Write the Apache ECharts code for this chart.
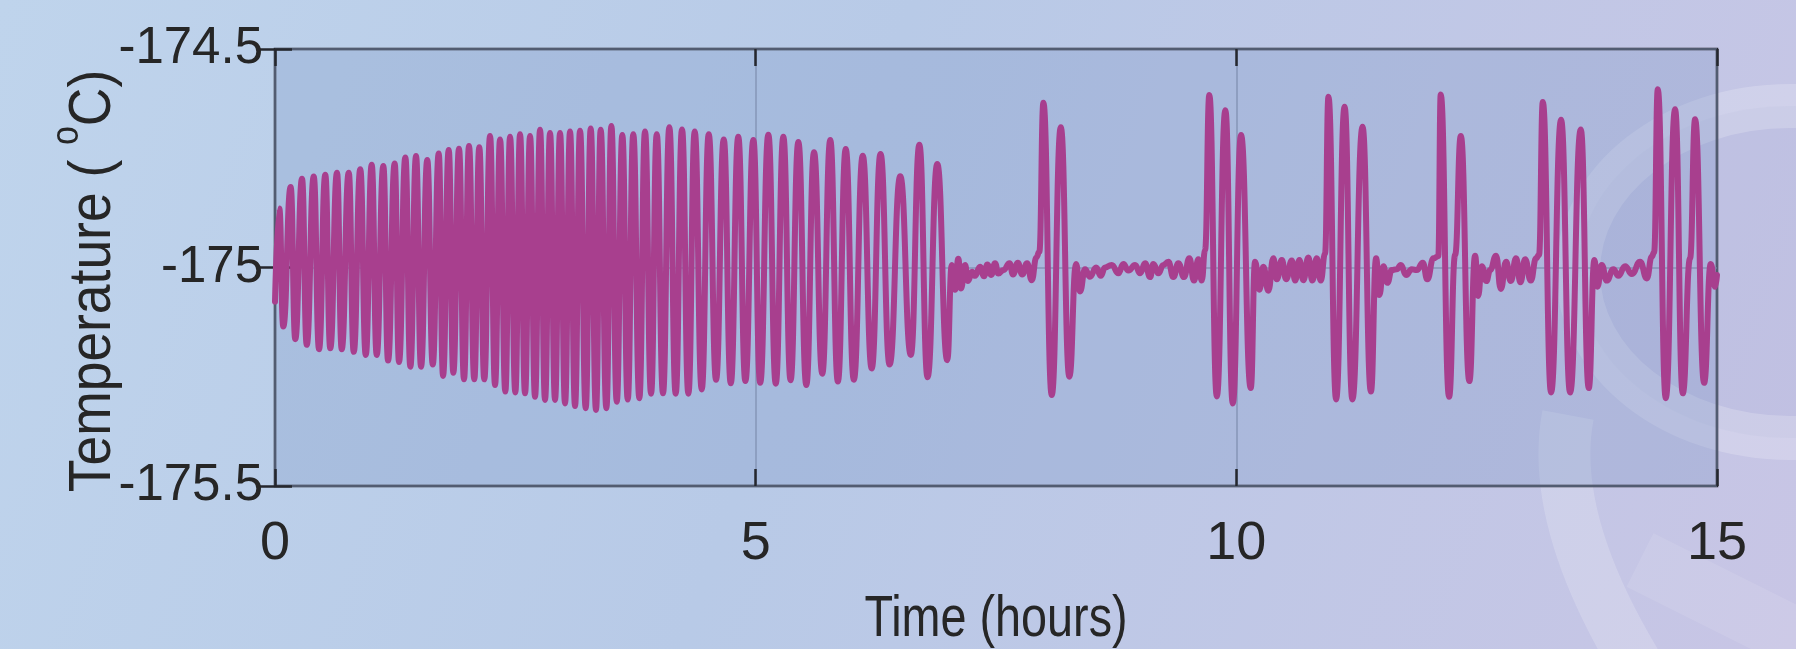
<!DOCTYPE html>
<html>
<head>
<meta charset="utf-8">
<script src="https://cdn.jsdelivr.net/npm/echarts@6/dist/echarts.min.js"></script>
<style>
html,body{margin:0;padding:0;width:1796px;height:649px;overflow:hidden;}
#chart{width:1796px;height:649px;}
</style>
</head>
<body>
<div id="chart"></div>
<script>
// ---- data: [time (hours), temperature (°C)] ----
const oscillationPhase = [
[0,-175.078],[0.045,-174.865],[0.086,-175.135],[0.163,-174.816],[0.211,-175.164],[0.281,-174.797],[0.330,-175.177],[0.403,-174.792],[0.458,-175.187],[0.523,-174.788],[0.575,-175.185],[0.645,-174.783],[0.694,-175.187],[0.767,-174.783],[0.819,-175.193],[0.887,-174.775],[0.944,-175.200],[1.006,-174.765],[1.058,-175.200],[1.127,-174.768],[1.176,-175.213],[1.245,-174.762],[1.290,-175.216],[1.356,-174.748],[1.408,-175.227],[1.467,-174.745],[1.519,-175.227],[1.584,-174.754],[1.641,-175.222],[1.703,-174.739],[1.748,-175.248],[1.807,-174.731],[1.855,-175.241],[1.914,-174.728],[1.966,-175.256],[2.018,-174.722],[2.073,-175.256],[2.125,-174.725],[2.177,-175.256],[2.237,-174.699],[2.289,-175.269],[2.341,-174.707],[2.396,-175.284],[2.445,-174.701],[2.500,-175.286],[2.549,-174.695],[2.601,-175.288],[2.653,-174.699],[2.705,-175.296],[2.757,-174.685],[2.809,-175.303],[2.861,-174.692],[2.913,-175.303],[2.965,-174.692],[3.017,-175.311],[3.069,-174.689],[3.121,-175.317],[3.173,-174.687],[3.232,-175.322],[3.284,-174.682],[3.339,-175.326],[3.388,-174.685],[3.447,-175.322],[3.499,-174.676],[3.555,-175.307],[3.613,-174.697],[3.669,-175.302],[3.727,-174.695],[3.790,-175.299],[3.849,-174.689],[3.912,-175.289],[3.971,-174.695],[4.036,-175.288],[4.102,-174.679],[4.168,-175.289],[4.234,-174.684],[4.300,-175.289],[4.366,-174.689],[4.439,-175.279],[4.512,-174.695],[4.588,-175.257],[4.668,-174.707],[4.741,-175.265],[4.819,-174.701],[4.893,-175.260],[4.976,-174.708],[5.047,-175.264],[5.132,-174.696],[5.209,-175.266],[5.288,-174.701],[5.363,-175.258],[5.444,-174.713],[5.527,-175.269],[5.607,-174.736],[5.693,-175.243],[5.776,-174.708],[5.855,-175.261],[5.937,-174.729],[6.021,-175.257],[6.114,-174.744],[6.207,-175.231],[6.299,-174.740],[6.393,-175.222],[6.504,-174.791],[6.614,-175.200],[6.703,-174.719],[6.788,-175.251],[6.889,-174.763],[6.993,-175.212]
];
const quiet1 = [
[7.040,-174.994],[7.074,-175.051],[7.108,-174.980],[7.136,-175.048],[7.178,-174.994],[7.209,-175.031],[7.251,-175.010],[7.282,-175.019],[7.334,-174.998],[7.376,-175.020],[7.410,-174.993],[7.451,-175.017],[7.490,-174.990],[7.525,-175.014],[7.577,-175.006],[7.641,-174.990],[7.677,-175.016],[7.727,-174.989],[7.773,-175.016],[7.823,-174.990],[7.872,-175.029],[7.920,-174.977],[7.951,-174.964]
];
const burst1 = [[7.993,-174.623],[8.080,-175.292],[8.174,-174.679],[8.263,-175.250]];
const quiet2 = [
[8.333,-174.992],[8.374,-175.055],[8.426,-175.004],[8.478,-175.021],[8.541,-175.000],[8.590,-175.019],[8.634,-175.000],[8.704,-174.994],[8.773,-175.013],[8.825,-174.992],[8.877,-175.007],[8.947,-174.994],[8.999,-175.013],[9.051,-174.990],[9.103,-175.022],[9.137,-174.992],[9.189,-175.013],[9.241,-174.994],[9.293,-174.987],[9.345,-175.022],[9.397,-174.990],[9.456,-175.022],[9.511,-174.979],[9.560,-175.030],[9.605,-174.981],[9.640,-175.030],[9.675,-174.960]
];
const burst2 = [[9.719,-174.605],[9.797,-175.295],[9.886,-174.640],[9.963,-175.311],[10.049,-174.697],[10.150,-175.276]];
const quiet3 = [
[10.195,-174.987],[10.240,-175.051],[10.281,-174.998],[10.333,-175.053],[10.385,-174.979],[10.421,-175.027],[10.473,-174.983],[10.518,-175.027],[10.577,-174.984],[10.611,-175.030],[10.656,-174.983],[10.697,-175.029],[10.749,-174.977],[10.791,-175.030],[10.837,-174.979],[10.878,-175.030],[10.923,-174.968]
];
const burst3 = [[10.958,-174.609],[11.038,-175.302],[11.126,-174.632],[11.207,-175.302],[11.313,-174.678],[11.400,-175.284]];
const quiet4 = [
[11.454,-174.979],[11.488,-175.063],[11.530,-174.997],[11.571,-175.035],[11.617,-175.006],[11.669,-175.004],[11.711,-174.994],[11.766,-175.017],[11.825,-175.004],[11.877,-175.006],[11.939,-174.989],[11.987,-175.027],[12.050,-174.979],[12.101,-174.974]
];
const burst4 = [[12.126,-174.604],[12.213,-175.296],[12.276,-174.971],[12.335,-174.699],[12.424,-175.260]];
const quiet5 = [
[12.484,-174.973],[12.515,-175.065],[12.553,-174.997],[12.601,-175.031],[12.640,-175.006],[12.702,-174.973],[12.751,-175.049],[12.806,-174.987],[12.855,-175.031],[12.910,-174.979],[12.955,-175.034],[13.004,-174.981],[13.063,-175.030],[13.118,-174.979],[13.149,-174.971]
];
const burst5 = [[13.188,-174.621],[13.274,-175.286],[13.378,-174.662],[13.472,-175.286],[13.583,-174.684],[13.666,-175.276]];
const quiet6 = [
[13.725,-174.983],[13.756,-175.044],[13.801,-174.994],[13.853,-175.030],[13.922,-175.004],[13.974,-175.019],[14.044,-174.997],[14.114,-175.015],[14.200,-174.987],[14.270,-175.025],[14.322,-174.975],[14.346,-174.965]
];
const burst6 = [[14.384,-174.592],[14.467,-175.299],[14.564,-174.638],[14.644,-175.288],[14.720,-174.979],[14.772,-174.661],[14.866,-175.264],[14.935,-174.992],[14.980,-175.044],[15.000,-175.017]];

const xTickValues = [0, 5, 10, 15];
const xTickLabels = ['0', '5', '10', '15'];
const yTickValues = [-175.5, -175, -174.5];
const yTickLabels = ['-175.5', '-175', '-174.5'];
const xTitle = 'Time (hours)';
const yTitle = 'Temperature ( {s|o}C)';

const seriesData = [].concat(oscillationPhase, quiet1, burst1, quiet2, burst2, quiet3, burst3, quiet4, burst4, quiet5, burst5, quiet6, burst6);

// ---- styling ----
const FONT = '"Liberation Sans", Arial, Helvetica, sans-serif';
const TEXT = '#262626';
const FRAME = '#25272e';
const FS = 51;

const chart = echarts.init(document.getElementById('chart'));
const tickStyle = { color: FRAME, width: 2.5 };
const gridLineStyle = { color: 'rgba(120,136,170,0.55)', width: 2 };

chart.setOption({
  animation: false,
  backgroundColor: {
    type: 'linear', x: 0, y: 0, x2: 1, y2: 1,
    colorStops: [
      { offset: 0, color: '#bfd4ec' },
      { offset: 0.45, color: '#b8cae7' },
      { offset: 1, color: '#c8c5e5' }
    ]
  },
  graphic: [
    { type: 'ellipse', z: -10, silent: true,
      shape: { cx: 1790, cy: 272, rx: 212, ry: 166 },
      style: { fill: 'rgba(150,158,210,0.10)', stroke: 'rgba(255,255,255,0.2)', lineWidth: 44 } },
    { type: 'bezierCurve', z: -10, silent: true,
      shape: { x1: 1568, y1: 415, cpx1: 1548, cpy1: 520, x2: 1640, y2: 670 },
      style: { fill: 'none', stroke: 'rgba(255,255,255,0.18)', lineWidth: 52 } },
    { type: 'bezierCurve', z: -10, silent: true,
      shape: { x1: 1640, y1: 560, cpx1: 1720, cpy1: 600, x2: 1800, y2: 640 },
      style: { fill: 'none', stroke: 'rgba(255,255,255,0.10)', lineWidth: 60 } },
    // axis titles (condensed like the reference's font)
    { type: 'text', z: 10, silent: true, x: 996, y: 620, scaleX: 0.82,
      style: { text: xTitle, fontSize: 57, fontFamily: FONT, fill: TEXT, align: 'center', verticalAlign: 'middle' } },
    { type: 'text', z: 10, silent: true, x: 93, y: 281, rotation: Math.PI / 2, scaleX: 0.89,
      style: { text: yTitle, fontSize: 60, fontFamily: FONT, fill: TEXT, align: 'center', verticalAlign: 'middle',
               lineHeight: 88,
               rich: { s: { fontSize: 38, fontFamily: FONT, fill: TEXT, verticalAlign: 'top', lineHeight: 40 } } } }
  ],
  grid: {
    left: 275, right: 79, top: 49, bottom: 163,
    show: true,
    backgroundColor: 'rgba(110,140,190,0.25)',
    borderColor: FRAME,
    borderWidth: 2.5
  },
  xAxis: [
    {
      type: 'value', position: 'bottom', min: 0, max: 15, interval: 5,
      axisLine: { show: false },
      axisTick: { show: true, inside: true, length: 17, lineStyle: tickStyle, customValues: xTickValues },
      axisLabel: {
        customValues: xTickValues,
        formatter: v => xTickLabels[xTickValues.indexOf(v)],
        fontSize: FS + 3, fontFamily: FONT, color: TEXT, margin: 31
      },
      splitLine: { show: true, lineStyle: gridLineStyle }
    },
    {
      type: 'value', position: 'top', min: 0, max: 15, interval: 5,
      axisLine: { show: false },
      axisTick: { show: true, inside: true, length: 17, lineStyle: tickStyle },
      axisLabel: { show: false },
      splitLine: { show: false }
    }
  ],
  yAxis: [
    {
      type: 'value', position: 'left', min: -175.5, max: -174.5, interval: 0.5,
      axisLine: { show: false },
      axisTick: { show: true, inside: true, length: 17, lineStyle: tickStyle, customValues: yTickValues },
      axisLabel: {
        customValues: yTickValues,
        formatter: v => yTickLabels[yTickValues.indexOf(v)],
        fontSize: FS, fontFamily: FONT, color: TEXT, margin: 12, padding: [6, 0, 0, 0]
      },
      splitLine: { show: true, lineStyle: gridLineStyle }
    },
    {
      type: 'value', position: 'right', min: -175.5, max: -174.5, interval: 0.5,
      axisLine: { show: false },
      axisTick: { show: true, inside: true, length: 17, lineStyle: tickStyle },
      axisLabel: { show: false },
      splitLine: { show: false }
    }
  ],
  series: [{
    type: 'line',
    xAxisIndex: 0, yAxisIndex: 0,
    data: seriesData,
    showSymbol: false, symbol: 'none',
    smooth: 0.5, smoothMonotone: 'x',
    sampling: null,
    lineStyle: { color: '#a83f8e', width: 6, cap: 'round', join: 'round' },
    z: 5
  }]
});
</script>
</body>
</html>
